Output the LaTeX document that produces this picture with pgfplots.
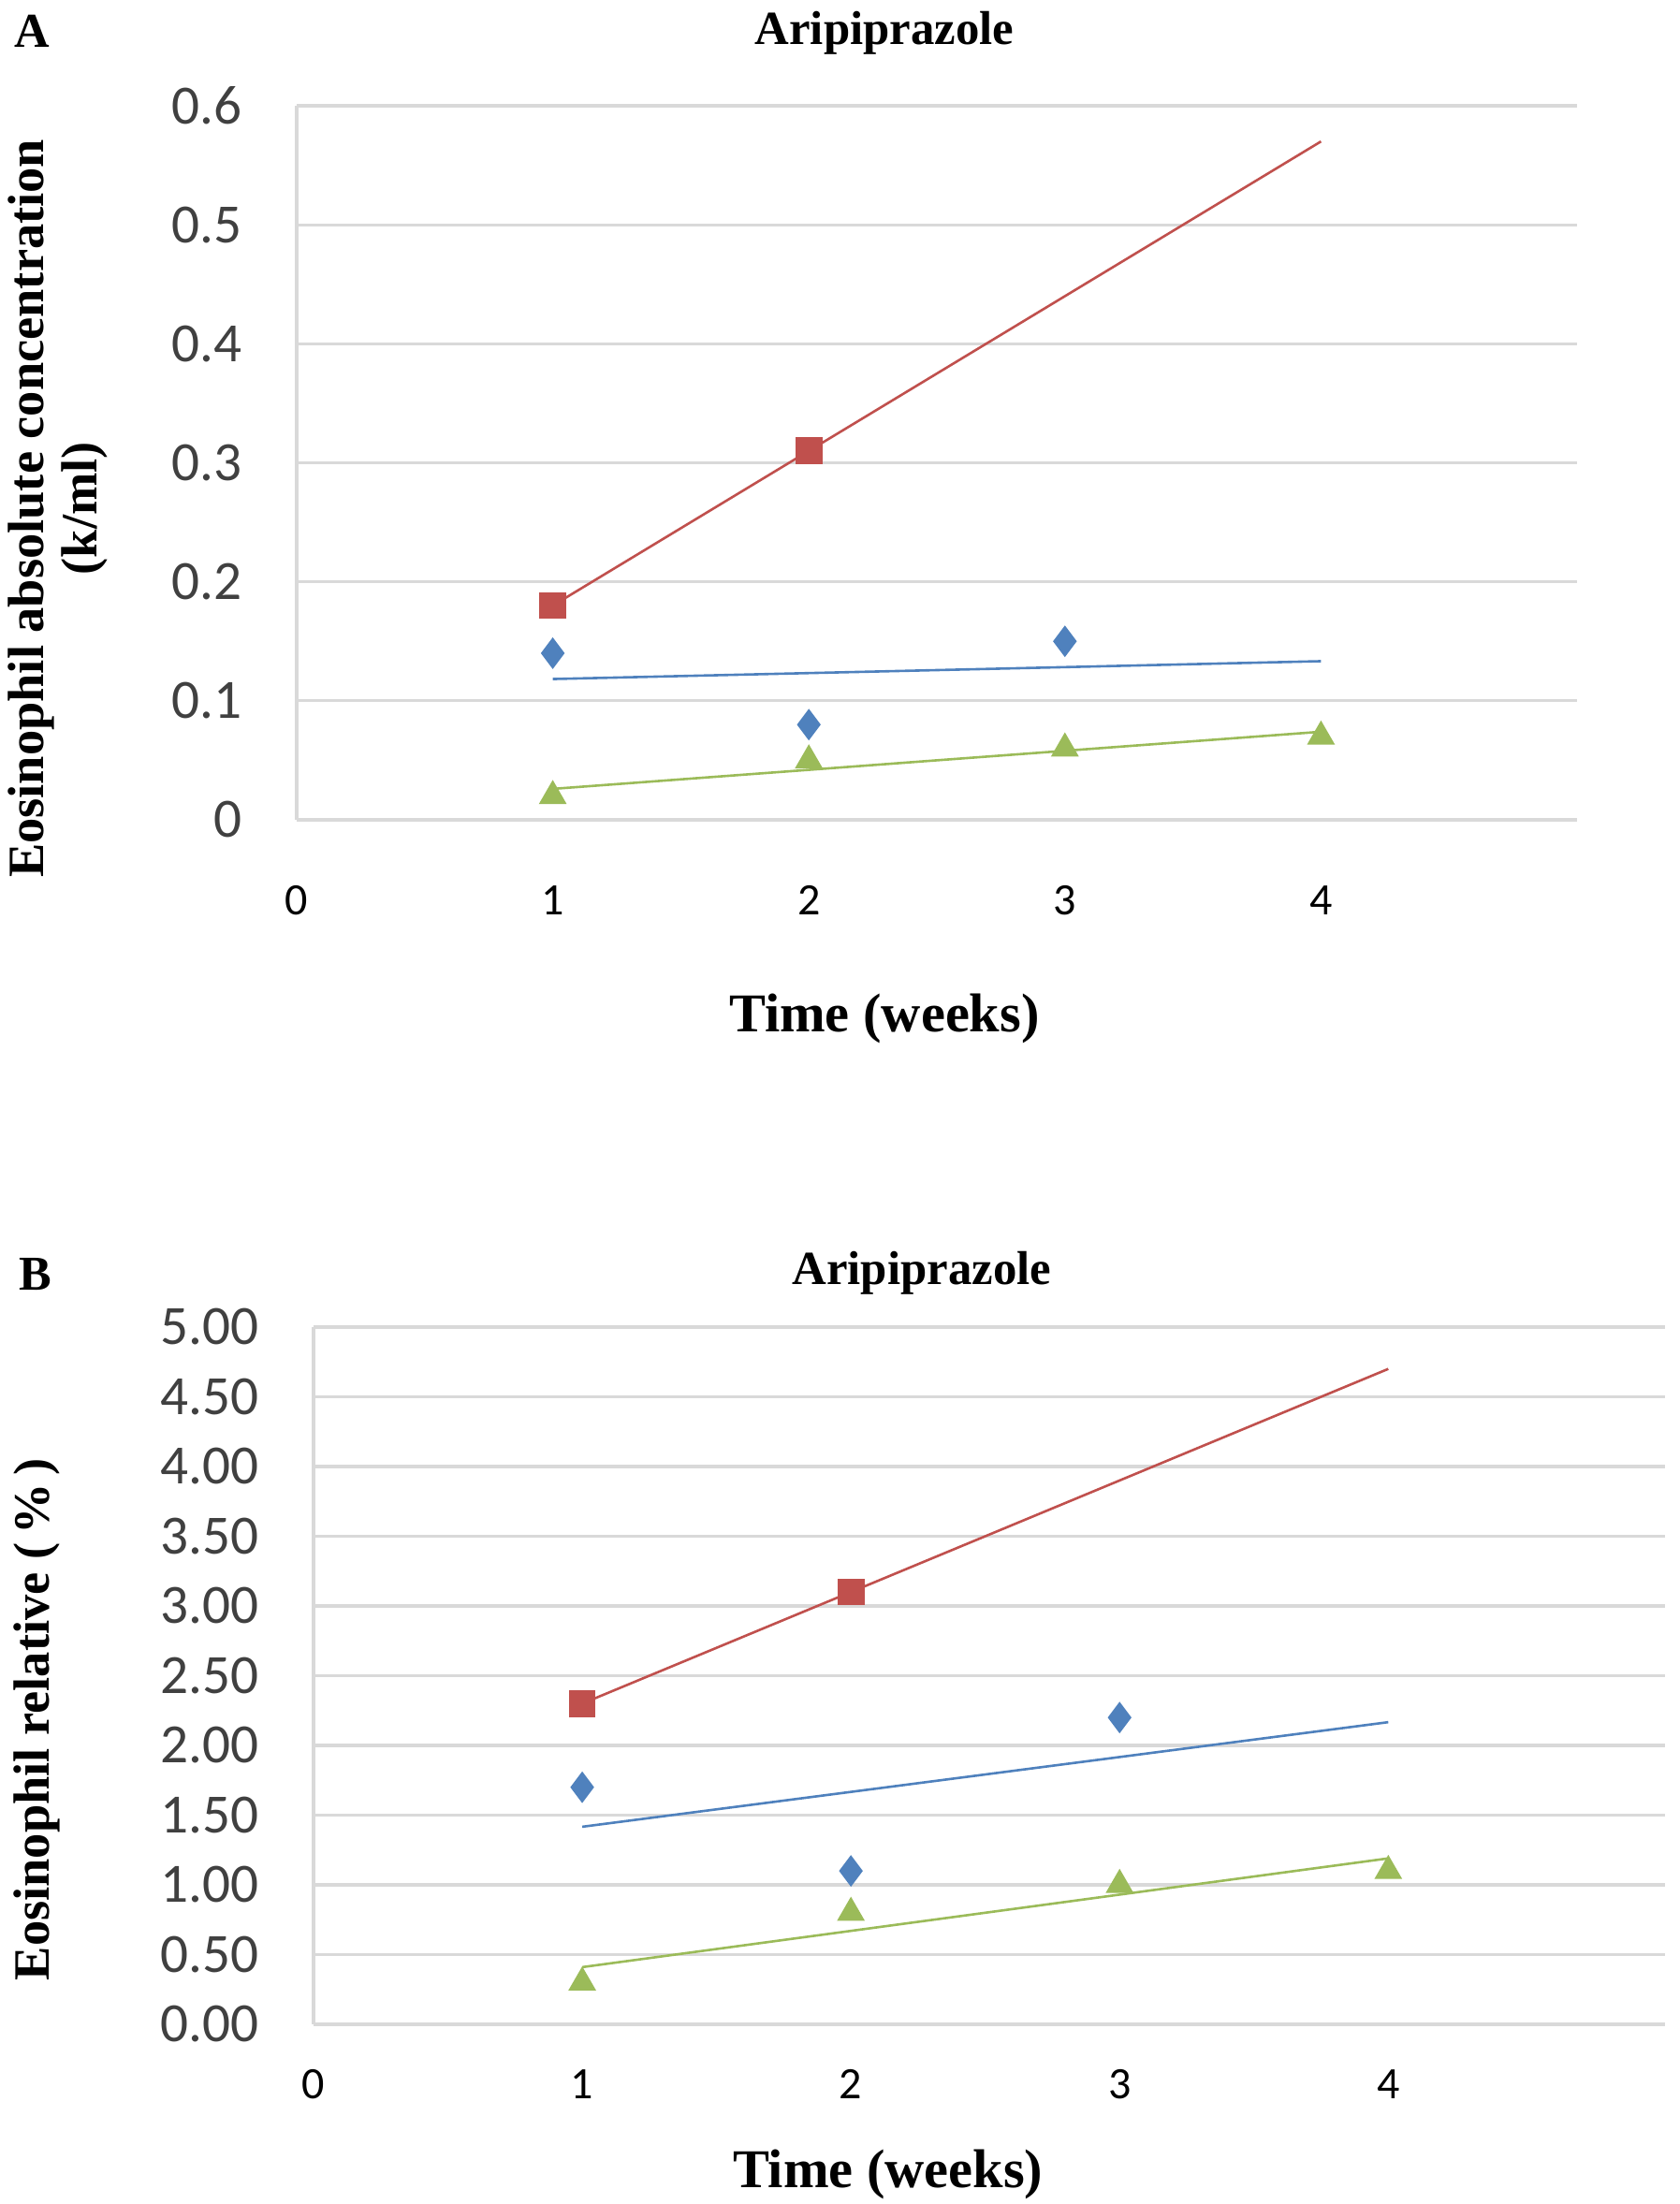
\documentclass[border=0pt]{standalone}
\usepackage{pgfplots}
\pgfplotsset{compat=1.18}
\usepackage{fontspec}
\setmainfont{Liberation Serif}
\newfontfamily\calibri{Carlito}

\definecolor{xlblue}{HTML}{4F81BD}
\definecolor{xlred}{HTML}{C0504D}
\definecolor{xlgreen}{HTML}{9BBB59}
\definecolor{gridgray}{HTML}{D9D9D9}
\definecolor{ticktext}{HTML}{404040}

\pgfplotsset{
  xlchart/.style={
    scale only axis, anchor=south west, clip=false,
    axis lines*=left,
    axis line style={draw=gridgray, line width=0.8pt},
    ymajorgrids, major grid style={draw=gridgray, line width=0.8pt},
    major tick length=0pt,
    xmin=0, xtick={0,1,2,3,4},
    /pgf/number format/assume math mode=true,
    yticklabel style={font=\calibri\fontsize{14.8}{16}\selectfont, text=ticktext, anchor=east, inner sep=0pt, xshift=-14.5pt},
    xticklabel style={font=\calibri\fontsize{12}{14}\selectfont, text=black, anchor=center, inner sep=0pt},
    title style={font=\bfseries\fontsize{12.7}{14}\selectfont},
    xlabel style={font=\bfseries\fontsize{14.6}{16}\selectfont, anchor=center},
    ylabel style={font=\bfseries\fontsize{13.6}{14.3}\selectfont, anchor=center, align=center},
  },
  trend/.style={no marks, line width=0.65pt},
  sq/.style={only marks, mark=square*, mark size=3.4pt, color=xlred},
  dia/.style={only marks, mark=diamond*, mark size=3.9pt, color=xlblue},
  tri/.style={only marks, mark=triangle*, mark size=3.9pt, color=xlgreen},
}

\begin{document}
\begin{tikzpicture}
\path[use as bounding box] (0,0) rectangle (448.75pt,588.75pt);

\node[font=\bfseries\fontsize{13}{14}\selectfont, anchor=center] at (8.5pt,580.5pt) {A};
\node[font=\bfseries\fontsize{13}{14}\selectfont, anchor=center] at (9.5pt,248.25pt) {B};

% Panel A: absolute concentration
\begin{axis}[xlchart,
  at={(79.25pt,369.75pt)}, width=342pt, height=190.75pt,
  xmax=5,
  ymin=0, ymax=0.6, ytick={0,0.1,0.2,0.3,0.4,0.5,0.6},
  xticklabel style={yshift=-21.5pt},
  title={Aripiprazole},
  title style={at={(axis description cs:0.459,1.071)}, anchor=center},
  xlabel={Time (weeks)},
  xlabel style={at={(axis description cs:0.459,-0.279)}},
  ylabel={Eosinophil absolute concentration\\(k/ml)},
  ylabel style={at={(axis description cs:-0.1866,0.436)}},
]
\addplot[trend, xlred] coordinates {(1,0.18) (4,0.57)};
\addplot[trend, xlblue] coordinates {(1,0.1183) (4,0.1333)};
\addplot[trend, xlgreen] coordinates {(1,0.026) (4,0.074)};
\addplot[dia] coordinates {(1,0.14) (2,0.08) (3,0.15)};
\addplot[sq] coordinates {(1,0.18) (2,0.31)};
\addplot[tri] coordinates {(1,0.02) (2,0.05) (3,0.06) (4,0.07)};
\end{axis}

% Panel B: relative
\begin{axis}[xlchart,
  at={(83.75pt,48pt)}, width=361pt, height=186.25pt,
  xmax=5.03,
  ymin=0, ymax=5, ytick={0,0.5,1,1.5,2,2.5,3,3.5,4,4.5,5},
  yticklabel style={/pgf/number format/.cd, fixed, fixed zerofill, precision=2},
  xticklabel style={yshift=-16pt},
  title={Aripiprazole},
  title style={at={(axis description cs:0.450,1.045)}, anchor=center},
  xlabel={Time (weeks)},
  xlabel style={at={(axis description cs:0.425,-0.215)}},
  ylabel={Eosinophil relative (\,\%\,)},
  ylabel style={at={(axis description cs:-0.2045,0.4376)}},
]
\addplot[trend, xlred] coordinates {(1,2.3) (4,4.7)};
\addplot[trend, xlblue] coordinates {(1,1.4167) (4,2.1667)};
\addplot[trend, xlgreen] coordinates {(1,0.41) (4,1.19)};
\addplot[dia] coordinates {(1,1.7) (2,1.1) (3,2.2)};
\addplot[sq] coordinates {(1,2.3) (2,3.1)};
\addplot[tri] coordinates {(1,0.3) (2,0.8) (3,1.0) (4,1.1)};
\end{axis}
\end{tikzpicture}
\end{document}
